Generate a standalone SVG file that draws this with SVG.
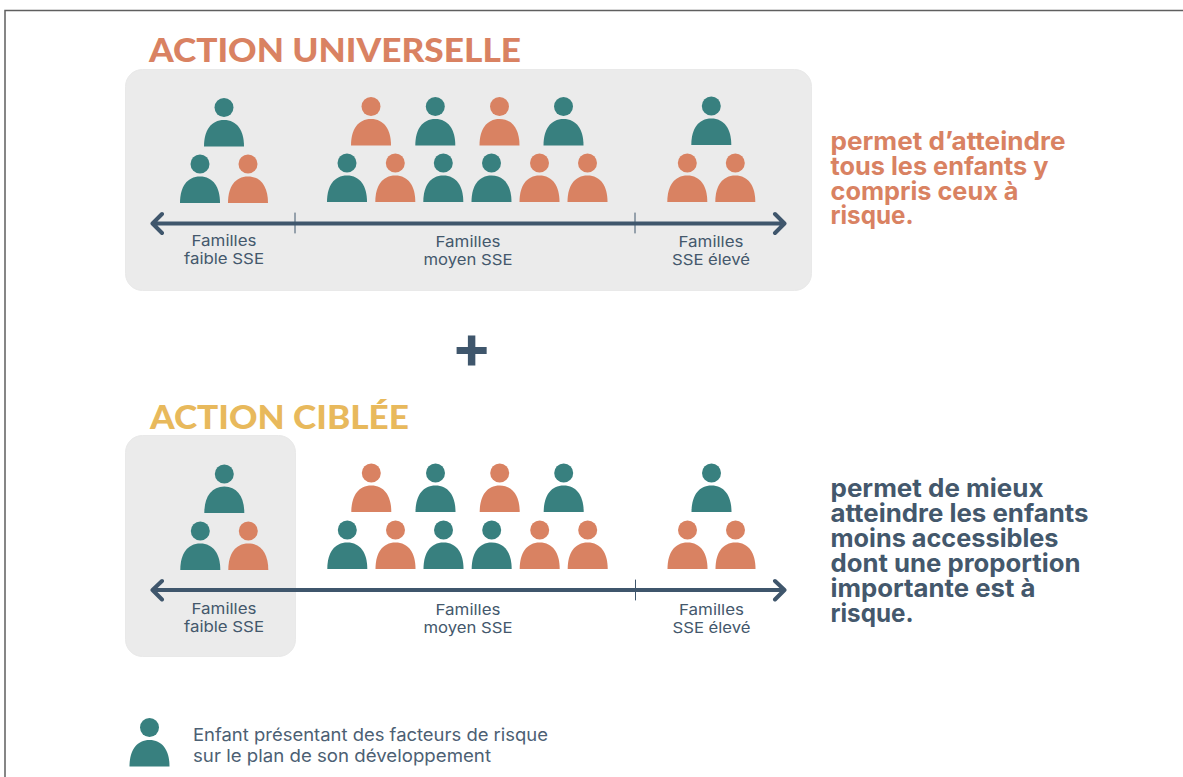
<svg xmlns="http://www.w3.org/2000/svg" width="1183" height="777" viewBox="0 0 1183 777">
<style>
text{font-family:"Inter","Open Sans","Liberation Sans",sans-serif}
.title{font-family:"Lato","Inter",sans-serif;font-size:33px;font-weight:900}
.lab{font-size:15px;fill:#44586c;text-anchor:middle;font-weight:400}
.desc{font-size:25px;font-weight:700}
.leg{font-size:17.500px;fill:#4c6073}
.t{fill:#38807f}.o{fill:#d98262}
.axis{stroke:#3f566c;fill:none;stroke-linecap:round;stroke-linejoin:round}
.panel{fill:#ebebeb;stroke:#e9e9e9}
</style>
<defs>
<g id="p"><circle cx="0" cy="0" r="9.500"/><path d="M-20 39C-20 23-13 12.500 0 12.500C13 12.500 20 23 20 39Z"/></g>
</defs>
<rect width="1183" height="777" fill="#fff"/>
<path d="M5 777V10.500H1183" fill="none" stroke="#5f5f5f" stroke-width="1.500"/>
<g id="block-universelle">
<text class="title" x="149" y="62" fill="#d98262" textLength="372" lengthAdjust="spacingAndGlyphs">ACTION UNIVERSELLE</text>
<rect class="panel" x="125.500" y="69.500" width="686" height="221" rx="17"/>
<g id="u-faible">
<use href="#p" class="t" x="224" y="107.500"/><use href="#p" class="t" x="200" y="164"/><use href="#p" class="o" x="248" y="164"/>
</g>
<g id="u-moyen">
<use href="#p" class="o" x="371" y="106.500"/><use href="#p" class="t" x="435.300" y="106.500"/><use href="#p" class="o" x="499.500" y="106.500"/><use href="#p" class="t" x="563.500" y="106.500"/>
<use href="#p" class="t" x="347" y="163"/><use href="#p" class="o" x="395.300" y="163"/><use href="#p" class="t" x="443.300" y="163"/><use href="#p" class="t" x="491.500" y="163"/><use href="#p" class="o" x="539.500" y="163"/><use href="#p" class="o" x="587.500" y="163"/>
</g>
<g id="u-eleve">
<use href="#p" class="t" x="711.300" y="106"/><use href="#p" class="o" x="687.300" y="163"/><use href="#p" class="o" x="735.300" y="163"/>
</g>
<text class="lab" x="224" y="246" textLength="65" lengthAdjust="spacingAndGlyphs">Familles</text><text class="lab" x="224" y="264" textLength="80" lengthAdjust="spacingAndGlyphs">faible SSE</text>
<text class="lab" x="468" y="247" textLength="65" lengthAdjust="spacingAndGlyphs">Familles</text><text class="lab" x="468" y="265" textLength="89" lengthAdjust="spacingAndGlyphs">moyen SSE</text>
<text class="lab" x="711" y="247" textLength="65" lengthAdjust="spacingAndGlyphs">Familles</text><text class="lab" x="711" y="265" textLength="78" lengthAdjust="spacingAndGlyphs">SSE élevé</text>
<g fill="#d98262">
<text class="desc" x="830.500" y="150" textLength="235" lengthAdjust="spacingAndGlyphs">permet d’atteindre</text>
<text class="desc" x="830.500" y="174.500" textLength="218" lengthAdjust="spacingAndGlyphs">tous les enfants y</text>
<text class="desc" x="830.500" y="199.500" textLength="188" lengthAdjust="spacingAndGlyphs">compris ceux à</text>
<text class="desc" x="830.500" y="224" textLength="83" lengthAdjust="spacingAndGlyphs">risque.</text>
</g>
</g>
<text id="plus" x="471.500" y="368" font-size="60" font-weight="700" fill="#3f566c" text-anchor="middle">+</text>
<g id="block-ciblee">
<text class="title" x="150" y="428.500" fill="#e8b95c" textLength="259" lengthAdjust="spacingAndGlyphs">ACTION CIBLÉE</text>
<rect class="panel" x="125.500" y="435.500" width="170" height="221" rx="17"/>
<g id="c-faible">
<use href="#p" class="t" x="224.300" y="474"/><use href="#p" class="t" x="200.300" y="531"/><use href="#p" class="o" x="248.300" y="531"/>
</g>
<g id="c-moyen">
<use href="#p" class="o" x="371.300" y="473"/><use href="#p" class="t" x="435.500" y="473"/><use href="#p" class="o" x="499.700" y="473"/><use href="#p" class="t" x="563.700" y="473"/>
<use href="#p" class="t" x="347.300" y="530"/><use href="#p" class="o" x="395.500" y="530"/><use href="#p" class="t" x="443.500" y="530"/><use href="#p" class="t" x="491.700" y="530"/><use href="#p" class="o" x="539.700" y="530"/><use href="#p" class="o" x="587.700" y="530"/>
</g>
<g id="c-eleve">
<use href="#p" class="t" x="711.500" y="473"/><use href="#p" class="o" x="687.500" y="530"/><use href="#p" class="o" x="735.500" y="530"/>
</g>
<text class="lab" x="224" y="614" textLength="65" lengthAdjust="spacingAndGlyphs">Familles</text><text class="lab" x="224" y="632" textLength="80" lengthAdjust="spacingAndGlyphs">faible SSE</text>
<text class="lab" x="468" y="615" textLength="65" lengthAdjust="spacingAndGlyphs">Familles</text><text class="lab" x="468" y="633" textLength="89" lengthAdjust="spacingAndGlyphs">moyen SSE</text>
<text class="lab" x="711.500" y="615" textLength="65" lengthAdjust="spacingAndGlyphs">Familles</text><text class="lab" x="711.500" y="633" textLength="78" lengthAdjust="spacingAndGlyphs">SSE élevé</text>
<g fill="#44586c">
<text class="desc" x="830.500" y="497" textLength="213" lengthAdjust="spacingAndGlyphs">permet de mieux</text>
<text class="desc" x="830.500" y="522" textLength="258" lengthAdjust="spacingAndGlyphs">atteindre les enfants</text>
<text class="desc" x="830.500" y="547" textLength="228" lengthAdjust="spacingAndGlyphs">moins accessibles</text>
<text class="desc" x="830.500" y="572" textLength="250" lengthAdjust="spacingAndGlyphs">dont une proportion</text>
<text class="desc" x="830.500" y="597" textLength="205" lengthAdjust="spacingAndGlyphs">importante est à</text>
<text class="desc" x="830.500" y="621.500" textLength="83" lengthAdjust="spacingAndGlyphs">risque.</text>
</g>
</g>
<g id="connectors">
<path class="axis" stroke-width="4" d="M153 223.500H784M162 214L152.500 223.500L162 233M775 214L784.500 223.500L775 233"/>
<path class="axis" stroke-width="1" d="M295 213V233M635 213V233"/>
<path class="axis" stroke-width="4" d="M153 590H784M162 581L152.500 590L162 599.500M775 581L784.500 590L775 599.500"/>
<path class="axis" stroke-width="1" d="M635.500 580V600"/>
</g>
<g id="legend">
<use href="#p" class="t" x="149.500" y="727.500"/>
<text class="leg" x="193" y="741" textLength="355" lengthAdjust="spacingAndGlyphs">Enfant présentant des facteurs de risque</text>
<text class="leg" x="193" y="762" textLength="298" lengthAdjust="spacingAndGlyphs">sur le plan de son développement</text>
</g>
</svg>
